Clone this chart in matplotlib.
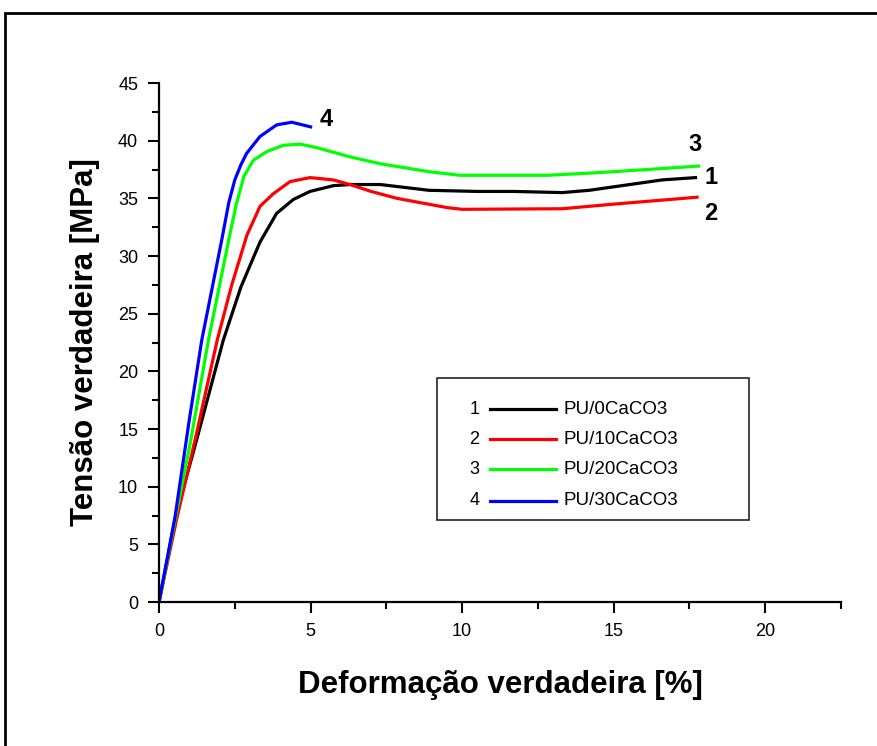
import matplotlib
matplotlib.use("Agg")
import matplotlib.pyplot as plt
from matplotlib.patches import Rectangle

plt.rcParams['font.family'] = ['Liberation Sans', 'DejaVu Sans']

# curves
x1 = [0, 0.55, 1.24, 2.12, 2.7, 3.33, 3.88, 4.43, 4.98, 5.75, 6.3, 7.3, 8.9, 10.5, 11.7, 13.3, 14.2, 15.0, 16.6, 17.7]
y1 = [0, 7.4, 14.05, 22.7, 27.3, 31.2, 33.7, 34.9, 35.6, 36.1, 36.2, 36.2, 35.7, 35.6, 35.6, 35.5, 35.7, 36.0, 36.6, 36.8]

x2 = [0, 0.6, 1.19, 1.92, 2.4, 2.9, 3.33, 3.77, 4.32, 4.98, 5.75, 6.3, 7.0, 7.85, 9.5, 10.0, 13.3, 15.0, 17.75]
y2 = [0, 7.4, 14.05, 22.7, 27.5, 31.8, 34.3, 35.4, 36.45, 36.8, 36.6, 36.2, 35.6, 35.0, 34.2, 34.05, 34.1, 34.5, 35.1]

x3 = [0, 0.55, 1.05, 1.63, 2.3, 2.55, 2.8, 3.11, 3.55, 4.1, 4.65, 5.2, 6.3, 7.3, 8.94, 9.93, 12.8, 14.3, 16.1, 17.8]
y3 = [0, 7.4, 14.05, 22.7, 31.4, 34.5, 36.9, 38.3, 39.05, 39.6, 39.7, 39.4, 38.6, 38.0, 37.3, 37.0, 37.0, 37.2, 37.5, 37.8]

x4 = [0, 0.53, 1.0, 1.41, 2.07, 2.3, 2.5, 2.7, 2.89, 3.33, 3.88, 4.38, 5.0]
y4 = [0, 7.4, 15.8, 22.7, 31.4, 34.6, 36.6, 37.9, 38.9, 40.36, 41.37, 41.6, 41.2]

series = [(x1, y1), (x2, y2), (x3, y3), (x4, y4)]
colors = ["#000000", "#ff0000", "#00ff00", "#0000ff"]
numbers = ["1", "2", "3", "4"]
names = ["PU/0CaCO3", "PU/10CaCO3", "PU/20CaCO3", "PU/30CaCO3"]

# end labels of the curves
label_xy = [(18.2, 36.8), (18.2, 33.7), (17.7, 39.7), (5.5, 41.8)]

fig = plt.figure(figsize=(8.77, 7.46), dpi=100)
ax = fig.add_axes([0.1813, 0.193, 0.959 - 0.1813, 0.8887 - 0.193])

for (xs, ys), c in zip(series, colors):
    ax.plot(xs, ys, color=c, lw=2.3, solid_joinstyle="round")

for n, (lx, ly) in zip(numbers, label_xy):
    ax.text(lx, ly, n, fontsize=17, fontweight="bold", ha="center", va="center")

ax.set_xlim(0, 22.5)
ax.set_ylim(0, 45)
ax.set_xticks([0, 5, 10, 15, 20])
ax.set_xticks([2.5, 7.5, 12.5, 17.5, 22.5], minor=True)
ax.set_yticks(range(0, 46, 5))
ax.set_yticks([2.5 + 5 * i for i in range(9)], minor=True)

for s in ["top", "right"]:
    ax.spines[s].set_visible(False)
for s in ["left", "bottom"]:
    ax.spines[s].set_linewidth(1.6)

ax.tick_params(which="major", direction="out", length=8, width=1.5, labelsize=13, pad=7)
ax.tick_params(which="minor", direction="out", length=5, width=1.5)

ax.set_xlabel("Deformação verdadeira [%]", fontsize=22.5, fontweight="bold", labelpad=22)
ax.set_ylabel("Tensão verdadeira [MPa]", fontsize=22.5, fontweight="bold", labelpad=13)

# legend drawn by hand, as in the reference
ax.add_patch(Rectangle((9.17, 7.1), 10.3, 12.3, fill=False, edgecolor="#222222", lw=1.2))
leg_y = [16.7, 14.1, 11.5, 8.8]
for n, name, c, ly in zip(numbers, names, colors, leg_y):
    ax.text(10.4, ly, n, fontsize=13, ha="center", va="center")
    ax.plot([10.92, 13.1], [ly, ly], color=c, lw=2.3)
    ax.text(13.33, ly, name, fontsize=13.5, ha="left", va="center")

# outer frame of the figure
fig.patches.append(Rectangle((0.006, -0.02), 1.1, 1.0026, transform=fig.transFigure,
                             fill=False, edgecolor="black", lw=2))

fig.savefig("out.png", dpi=100)
